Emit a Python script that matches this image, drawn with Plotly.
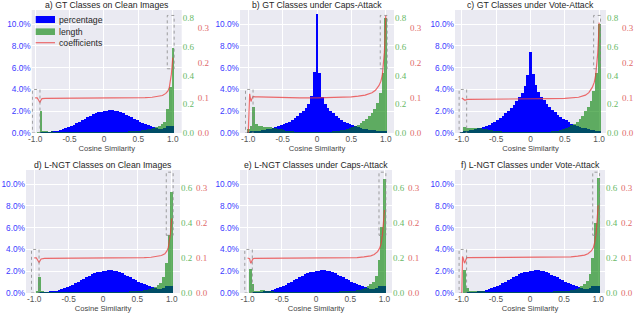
import numpy as np
import plotly.graph_objects as go

W, H = 640, 315

# ---------------- data ----------------
BIN_CENTERS = np.round(np.linspace(-1.0, 1.0, 51), 2)
BIN_WIDTH = 0.04

X_TICKS = [-1.0, -0.5, 0.0, 0.5, 1.0]
X_TICK_TEXT = ["-1.0", "-0.5", "0", "0.5", "1.0"]
BLUE_TICKS = [0, 2, 4, 6, 8, 10]
GREEN_TICKS_TOP = [0.0, 0.2, 0.4, 0.6, 0.8]
GREEN_TICKS_BOTTOM = [0.0, 0.2, 0.4, 0.6]
RED_TICKS = [0.0, 0.1, 0.2, 0.3]

TITLES = [
    "a) GT Classes on Clean Images",
    "b) GT Classes under Caps-Attack",
    "c) GT Classes under Vote-Attack",
    "d) L-NGT Classes on Clean Images",
    "e) L-NGT Classes under Caps-Attack",
    "f) L-NGT Classes under Vote-Attack",
]

# percentage (%) – broad bump shared by clean / L-NGT panels
BLUE_BUMP = [0.0, 0.0, 0.02, 0.04, 0.06, 0.08, 0.12, 0.17, 0.22, 0.29, 0.36, 0.44, 0.53,
             0.63, 0.75, 0.88, 1.0, 1.15, 1.3, 1.45, 1.6, 1.72, 1.82, 1.9, 1.95, 1.98,
             2.04, 2.07, 2.09, 2.05, 2.0, 1.92, 1.83, 1.7, 1.57, 1.44, 1.31, 1.18, 1.05,
             0.93, 0.82, 0.72, 0.62, 0.53, 0.45, 0.39, 0.4, 0.5, 0.62, 0.68, 0.6]
BLUE_B = [0.05, 0.1, 0.14, 0.17, 0.2, 0.25, 0.3, 0.35, 0.4, 0.45, 0.52, 0.6, 0.7, 0.8,
          0.92, 1.05, 1.2, 1.4, 1.6, 1.85, 2.05, 2.3, 2.7, 3.4, 5.6,
          10.9,
          5.5, 3.35, 2.65, 2.28, 2.02, 1.8, 1.56, 1.36, 1.18, 1.03, 0.91, 0.8, 0.69, 0.6,
          0.52, 0.46, 0.4, 0.35, 0.31, 0.27, 0.24, 0.22, 0.2, 0.17, 0.12]
BLUE_C = [0.05, 0.13, 0.2, 0.24, 0.3, 0.35, 0.42, 0.5, 0.57, 0.65, 0.75, 0.88, 1.0, 1.15,
          1.35, 1.55, 1.8, 2.0, 2.3, 2.6, 2.9, 3.3, 3.7, 4.3, 5.3,
          7.4,
          5.4, 4.4, 3.8, 3.35, 3.0, 2.65, 2.4, 2.15, 1.9, 1.7, 1.5, 1.3, 1.15, 1.0, 0.85,
          0.75, 0.65, 0.57, 0.5, 0.42, 0.36, 0.3, 0.26, 0.22, 0.15]

# length
GREEN_A = [0.0, 0.01, 0.15, 0.015, 0.012, 0.01, 0.012, 0.01, 0.009, 0.01, 0.009, 0.008,
           0.009, 0.008, 0.008, 0.008, 0.008, 0.008, 0.008, 0.008, 0.008, 0.008, 0.008,
           0.008, 0.008, 0.008, 0.008, 0.008, 0.008, 0.008, 0.008, 0.009, 0.009, 0.01,
           0.011, 0.012, 0.013, 0.014, 0.016, 0.018, 0.02, 0.025, 0.03, 0.035, 0.04, 0.05,
           0.06, 0.08, 0.17, 0.32, 0.59]
GREEN_B = [0.03, 0.05, 0.18, 0.06, 0.05, 0.048, 0.045, 0.045, 0.04, 0.038, 0.035, 0.03,
           0.025, 0.02, 0.016, 0.013, 0.011, 0.01, 0.01, 0.009, 0.009, 0.008, 0.008, 0.008,
           0.008, 0.008, 0.008, 0.008, 0.009, 0.009, 0.01, 0.011, 0.013, 0.015, 0.018,
           0.022, 0.027, 0.033, 0.04, 0.048, 0.058, 0.07, 0.085, 0.1, 0.12, 0.14, 0.17,
           0.21, 0.28, 0.42, 0.8]
GREEN_C = [0.01, 0.04, 0.035, 0.033, 0.033, 0.035, 0.035, 0.033, 0.03, 0.027, 0.024, 0.02,
           0.017, 0.014, 0.012, 0.01, 0.009, 0.009, 0.008, 0.008, 0.008, 0.008, 0.008,
           0.008, 0.008, 0.008, 0.008, 0.008, 0.008, 0.008, 0.009, 0.009, 0.01, 0.011,
           0.012, 0.015, 0.02, 0.025, 0.035, 0.045, 0.055, 0.065, 0.08, 0.095, 0.12, 0.15,
           0.18, 0.22, 0.29, 0.42, 0.76]
GREEN_D = [0.0, 0.01, 0.09, 0.01, 0.008, 0.008, 0.008, 0.007, 0.007, 0.007, 0.007, 0.006,
           0.006, 0.006, 0.006, 0.006, 0.006, 0.006, 0.006, 0.006, 0.006, 0.006, 0.006,
           0.006, 0.006, 0.006, 0.006, 0.006, 0.006, 0.006, 0.006, 0.007, 0.007, 0.008,
           0.008, 0.009, 0.01, 0.011, 0.012, 0.013, 0.015, 0.018, 0.022, 0.026, 0.035,
           0.045, 0.06, 0.09, 0.17, 0.33, 0.58]
GREEN_E = [0.0, 0.14, 0.05, 0.012, 0.013, 0.015, 0.015, 0.013, 0.01, 0.009, 0.008, 0.008,
           0.007, 0.007, 0.007, 0.007, 0.007, 0.007, 0.007, 0.007, 0.007, 0.007, 0.007,
           0.007, 0.007, 0.007, 0.007, 0.007, 0.007, 0.007, 0.007, 0.007, 0.008, 0.008,
           0.009, 0.01, 0.01, 0.011, 0.012, 0.013, 0.015, 0.02, 0.025, 0.03, 0.038, 0.05,
           0.065, 0.1, 0.19, 0.38, 0.65]
GREEN_F = [0.0, 0.13, 0.03, 0.01, 0.01, 0.012, 0.012, 0.01, 0.009, 0.008, 0.008, 0.008,
           0.007, 0.007, 0.007, 0.007, 0.007, 0.007, 0.007, 0.007, 0.007, 0.007, 0.007,
           0.007, 0.007, 0.007, 0.007, 0.007, 0.007, 0.007, 0.007, 0.007, 0.008, 0.008,
           0.009, 0.01, 0.01, 0.011, 0.012, 0.013, 0.015, 0.02, 0.025, 0.03, 0.04, 0.05,
           0.07, 0.11, 0.2, 0.4, 0.66]

# coefficients
RED_X = [-1.0, -0.99, -0.98, -0.97, -0.96, -0.95, -0.94, -0.93, -0.92, -0.9, -0.85, -0.7,
         -0.5, -0.25, 0.0, 0.25, 0.5, 0.6, 0.7, 0.8, 0.85, 0.9, 0.93, 0.95, 0.97, 0.98,
         0.99, 1.0]
RED_A = [0.1, 0.1, 0.1, 0.1, 0.097, 0.092, 0.088, 0.087, 0.092, 0.098, 0.099, 0.099,
         0.099, 0.099, 0.099, 0.1, 0.1, 0.101, 0.102, 0.104, 0.107, 0.113, 0.12, 0.13,
         0.15, 0.168, 0.19, 0.215]
RED_B = [0.0, 0.11, 0.112, 0.1, 0.09, 0.096, 0.102, 0.104, 0.104, 0.103, 0.103, 0.102,
         0.101, 0.1, 0.1, 0.101, 0.103, 0.105, 0.108, 0.115, 0.122, 0.135, 0.148, 0.165,
         0.2, 0.23, 0.27, 0.335]
RED_C = [0.1, 0.098, 0.097, 0.095, 0.094, 0.094, 0.095, 0.095, 0.096, 0.096, 0.096,
         0.097, 0.097, 0.098, 0.098, 0.098, 0.099, 0.1, 0.102, 0.108, 0.115, 0.13, 0.145,
         0.165, 0.2, 0.228, 0.265, 0.315]
RED_D = [0.1, 0.1, 0.1, 0.1, 0.097, 0.092, 0.088, 0.087, 0.091, 0.097, 0.099, 0.099,
         0.099, 0.099, 0.099, 0.1, 0.1, 0.101, 0.102, 0.104, 0.107, 0.112, 0.12, 0.13,
         0.15, 0.167, 0.188, 0.213]
RED_E = [0.1, 0.1, 0.1, 0.098, 0.09, 0.085, 0.09, 0.096, 0.098, 0.099, 0.099, 0.099,
         0.099, 0.099, 0.1, 0.1, 0.1, 0.101, 0.103, 0.106, 0.11, 0.118, 0.128, 0.14,
         0.165, 0.185, 0.21, 0.237]
RED_F = [0.0, 0.104, 0.1, 0.092, 0.085, 0.09, 0.097, 0.1, 0.101, 0.101, 0.101, 0.101,
         0.101, 0.101, 0.101, 0.101, 0.102, 0.103, 0.105, 0.108, 0.112, 0.12, 0.13, 0.145,
         0.17, 0.19, 0.22, 0.25]

# zoom boxes (x in cosine similarity, y in percentage)
BOX_LEFT_X = [-1.04, -0.93]
BOX_LEFT_Y = [0.0, 4.0]
BOX_RIGHT_X = [0.92, 1.02]
BOX_RIGHT_Y_TOP = [5.9, 10.8]
BOX_RIGHT_Y_BOTTOM = [5.3, 11.1]

LEGEND_LABELS = ["percentage", "length", "coefficients"]

# ---------------- styling / layout ----------------
BLUE = "#0000ff"
GREEN = "rgba(0,128,0,0.6)"
RED = "rgba(235,60,60,0.75)"
BLUE_TXT = "#3b3bff"
GREEN_TXT = "#66b866"
RED_TXT = "#e06868"
BG = "#eaeaf2"
FONT = "Liberation Sans"
SERIF = "Liberation Serif"

ROWS = [(10, 133), (170, 293)]  # pixel top, bottom
TITLE_Y = [5.2, 165]            # pixel centre of the panel titles
PANELS = [
    dict(blue=BLUE_BUMP, green=GREEN_A, red=RED_A, px=(31.7, 181.7), row=0, xr=(-1.05, 1.13)),
    dict(blue=BLUE_B, green=GREEN_B, red=RED_B, px=(240, 394), row=0, xr=(-1.12, 1.12)),
    dict(blue=BLUE_C, green=GREEN_C, red=RED_C, px=(455, 606), row=0, xr=(-1.1, 1.1)),
    dict(blue=BLUE_BUMP, green=GREEN_D, red=RED_D, px=(26, 180), row=1, xr=(-1.12, 1.12)),
    dict(blue=BLUE_BUMP, green=GREEN_E, red=RED_E, px=(240, 392), row=1, xr=(-1.11, 1.11)),
    dict(blue=BLUE_BUMP, green=GREEN_F, red=RED_F, px=(455, 605), row=1, xr=(-1.1, 1.1)),
]
BLUE_RANGE = [0, 11.3]
GREEN_RANGE = [[0, 0.856], [0, 0.703]]
RED_RANGE = [0, 0.351]

fig = go.Figure()
layout = dict(
    width=W, height=H, margin=dict(l=0, r=0, t=0, b=0),
    paper_bgcolor="white", plot_bgcolor=BG, showlegend=False,
    barmode="overlay", bargap=0,
    font=dict(family=FONT, size=9, color="#262626"),
)
annotations = []
shapes = []

def yname(i):
    return "y" if i == 1 else f"y{i}"

def ykey(i):
    return "yaxis" if i == 1 else f"yaxis{i}"

for k, p in enumerate(PANELS):
    xn = "x" if k == 0 else f"x{k + 1}"
    xk = "xaxis" if k == 0 else f"xaxis{k + 1}"
    yb, yg, yr = 3 * k + 1, 3 * k + 2, 3 * k + 3
    top, bot = ROWS[p["row"]]
    x0, x1 = p["px"][0] / W, p["px"][1] / W
    d0, d1 = 1 - bot / H, 1 - top / H

    fig.add_trace(go.Bar(x=BIN_CENTERS, y=p["blue"], width=BIN_WIDTH, marker=dict(color=BLUE, line=dict(width=0)),
                         xaxis=xn, yaxis=yname(yb), name=LEGEND_LABELS[0], hoverinfo="skip"))
    fig.add_trace(go.Bar(x=BIN_CENTERS, y=p["green"], width=BIN_WIDTH, marker=dict(color=GREEN, line=dict(width=0)),
                         xaxis=xn, yaxis=yname(yg), name=LEGEND_LABELS[1], hoverinfo="skip"))
    fig.add_trace(go.Scatter(x=RED_X, y=p["red"], mode="lines", line=dict(color=RED, width=1.2),
                             xaxis=xn, yaxis=yname(yr), name=LEGEND_LABELS[2], hoverinfo="skip"))

    layout[xk] = dict(domain=[x0, x1], anchor=yname(yb), range=list(p["xr"]),
                      tickvals=X_TICKS, ticktext=X_TICK_TEXT, showgrid=True, gridcolor="white",
                      gridwidth=1, zeroline=False, showline=False, ticks="",
                      tickfont=dict(family=FONT, size=8.3, color="#555555"),
                      title=dict(text="Cosine Similarity", font=dict(family=FONT, size=7.6, color="#444444"),
                                 standoff=0),
                      automargin=False)
    layout[ykey(yb)] = dict(domain=[d0, d1], anchor=xn, range=BLUE_RANGE, tickvals=BLUE_TICKS,
                            ticktext=[f"{v:.1f}%" for v in BLUE_TICKS], showgrid=True,
                            gridcolor="white", gridwidth=1, zeroline=False, showline=False,
                            ticks="", tickfont=dict(family=FONT, size=8.3, color=BLUE_TXT),
                            automargin=False)
    gt = GREEN_TICKS_TOP if p["row"] == 0 else GREEN_TICKS_BOTTOM
    layout[ykey(yg)] = dict(overlaying=yname(yb), side="right", anchor="free", position=x1,
                            range=GREEN_RANGE[p["row"]], tickvals=gt,
                            ticktext=[f"{v:.1f}" for v in gt], showgrid=False, zeroline=False,
                            showline=False, ticks="",
                            tickfont=dict(family=SERIF, size=9, color=GREEN_TXT), automargin=False)
    layout[ykey(yr)] = dict(overlaying=yname(yb), side="right", anchor="free",
                            position=min(1.0, x1 + 15 / W),
                            range=RED_RANGE, tickvals=RED_TICKS,
                            ticktext=[f"{v:.1f}" for v in RED_TICKS], showgrid=False,
                            zeroline=False, showline=False, ticks="",
                            tickfont=dict(family=SERIF, size=9, color=RED_TXT), automargin=False)

    annotations.append(dict(text=TITLES[k], x=(x0 + x1) / 2, y=1 - TITLE_Y[p["row"]] / H,
                            xref="paper", yref="paper", xanchor="center", yanchor="middle",
                            showarrow=False, borderpad=0,
                            font=dict(family=FONT, size=8.7, color="#262626")))
    by = BOX_RIGHT_Y_TOP if p["row"] == 0 else BOX_RIGHT_Y_BOTTOM
    for bx, byy in ((BOX_LEFT_X, BOX_LEFT_Y), (BOX_RIGHT_X, by)):
        shapes.append(dict(type="rect", xref=xn, yref=yname(yb), x0=bx[0], x1=bx[1],
                           y0=byy[0], y1=byy[1], line=dict(color="#888888", width=0.8, dash="dot"),
                           layer="above"))

# legend drawn inside panel a
lx0, lx1 = 35.7 / W, 55 / W
rows_y = [19.5, 31.7, 42.7]
shapes.append(dict(type="rect", xref="paper", yref="paper", x0=lx0, x1=lx1,
                   y0=1 - 23 / H, y1=1 - 16 / H, fillcolor=BLUE, line=dict(width=0)))
shapes.append(dict(type="rect", xref="paper", yref="paper", x0=lx0, x1=lx1,
                   y0=1 - 35 / H, y1=1 - 28.4 / H, fillcolor=GREEN, line=dict(width=0)))
shapes.append(dict(type="line", xref="paper", yref="paper", x0=lx0, x1=lx1,
                   y0=1 - 42.7 / H, y1=1 - 42.7 / H, line=dict(color=RED, width=1.2)))
for lab, ry in zip(LEGEND_LABELS, rows_y):
    annotations.append(dict(text=lab, x=58 / W, y=1 - ry / H, xref="paper", yref="paper",
                            xanchor="left", yanchor="middle", showarrow=False, borderpad=0,
                            font=dict(family=FONT, size=8.7, color="#262626")))

layout["annotations"] = annotations
layout["shapes"] = shapes
fig.update_layout(**layout)
fig.write_html("out.html", config={"displayModeBar": False},
               post_script="document.body.style.margin='0';document.body.style.padding='0';")
